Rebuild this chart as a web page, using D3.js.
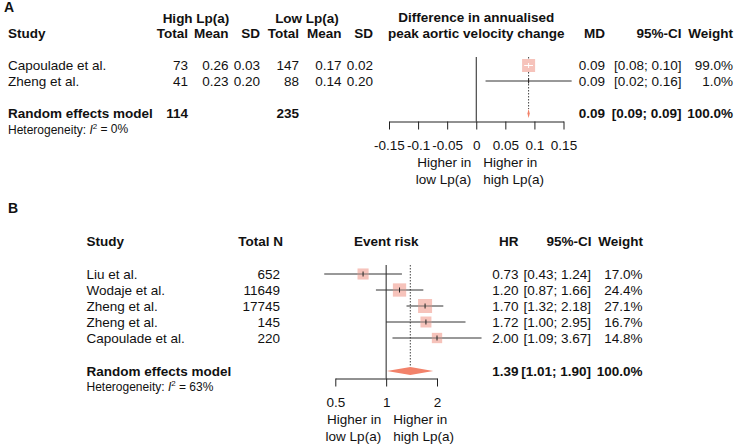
<!DOCTYPE html>
<html>
<head>
<meta charset="utf-8">
<script src="https://cdn.jsdelivr.net/npm/d3@7"></script>
<style>
  body { margin: 0; background: #fff; }
  svg { display: block; font-family: Arial, "Liberation Sans", sans-serif; font-size: 13.5px; fill: #111; }
</style>
</head>
<body>
<svg id="chart" width="740" height="445"></svg>
<script>
/* ============================================================
   Two forest plots (A: mean difference, B: hazard ratio)
   ============================================================ */

// ---- Panel A data ----
const studiesA   = ['Capoulade et al.', 'Zheng et al.'];
const highTotalA = [73, 41];
const highMeanA  = [0.26, 0.23];
const highSdA    = [0.03, 0.20];
const lowTotalA  = [147, 88];
const lowMeanA   = [0.17, 0.14];
const lowSdA     = [0.02, 0.20];
const mdA        = [0.09, 0.09];
const lowerA     = [0.0824, 0.016];
const upperA     = [0.0976, 0.164];
const weightA    = [99.0, 1.0];
const pooledA    = [0.09, 0.088, 0.092];   // estimate, lower, upper
const totalsA    = [114, 235];
const i2A        = 0;
const ticksA     = [-0.15, -0.1, -0.05, 0, 0.05, 0.1, 0.15];

// ---- Panel B data ----
const studiesB = ['Liu et al.', 'Wodaje et al.', 'Zheng et al.', 'Zheng et al.', 'Capoulade et al.'];
const totalNB  = [652, 11649, 17745, 145, 220];
const hrB      = [0.73, 1.20, 1.70, 1.72, 2.00];
const lowerB   = [0.43, 0.87, 1.32, 1.00, 1.09];
const upperB   = [1.24, 1.66, 2.18, 2.95, 3.67];
const weightB  = [17.0, 24.4, 27.1, 16.7, 14.8];
const pooledB  = [1.39, 1.01, 1.90];
const i2B      = 63;
const ticksB   = [0.5, 1, 2];

const SQUARE = '#f6c3bb';
const DIAMOND = '#f2826a';
const LINE = '#333';

const svg = d3.select('#chart');

function text(x, y, s, anchor, opts) {
  opts = opts || {};
  const t = svg.append('text')
    .attr('x', x).attr('y', y)
    .attr('dy', '0.35em')
    .attr('text-anchor', anchor || 'start')
    .text(s);
  if (opts.bold) t.attr('font-weight', 'bold');
  if (opts.size) t.attr('font-size', opts.size);
  return t;
}

function hetero(x, y, val) {
  const t = svg.append('text').attr('x', x).attr('y', y).attr('dy', '0.35em')
    .attr('font-size', 12);
  t.append('tspan').text('Heterogeneity: ');
  t.append('tspan').attr('font-style', 'italic').text('I');
  t.append('tspan').attr('font-size', 8).attr('dy', '-0.6em').text('2');
  t.append('tspan').attr('dy', '0.35em').text(` = ${val}%`);
}

const ci = (l, u) => `[${l.toFixed(2)}; ${u.toFixed(2)}]`;

function drawStudy(x, y, est, lo, hi, size) {
  svg.append('line').attr('x1', x(lo)).attr('x2', x(hi)).attr('y1', y).attr('y2', y)
    .attr('stroke', LINE).attr('stroke-width', 1);
  const cx = x(est);
  svg.append('rect').attr('x', cx - size / 2).attr('y', y - size / 2)
    .attr('width', size).attr('height', size).attr('fill', SQUARE);
  // inside part of the CI line, white when it fits in the square
  const inside = x(lo) >= cx - size / 2 && x(hi) <= cx + size / 2;
  const col = inside ? '#fff' : '#555';
  svg.append('line')
    .attr('x1', Math.max(x(lo), cx - size / 2)).attr('x2', Math.min(x(hi), cx + size / 2))
    .attr('y1', y).attr('y2', y).attr('stroke', col).attr('stroke-width', inside ? 1 : 0.8);
  svg.append('line').attr('x1', cx).attr('x2', cx).attr('y1', y - 2.5).attr('y2', y + 2.5)
    .attr('stroke', inside ? '#fff' : '#222').attr('stroke-width', 1);
}

function drawDiamond(x, y, est, lo, hi, h) {
  svg.append('polygon')
    .attr('points', [[x(lo), y], [x(est), y - h], [x(hi), y], [x(est), y + h]].join(' '))
    .attr('fill', DIAMOND);
}

function drawAxis(x, y, ticks, fmt) {
  const g = svg.append('g').attr('transform', `translate(0,${y})`)
    .call(d3.axisBottom(x).tickValues(ticks).tickFormat(fmt).tickSize(8).tickSizeOuter(0));
  g.attr('font-size', null).attr('font-family', null);
  g.select('.domain').attr('stroke', '#222');
  g.selectAll('.tick line').attr('stroke', '#222');
  g.selectAll('.tick text').attr('y', 24).attr('dy', '0.35em').attr('fill', '#111');
}

function sideLabels(x0, y) {
  text(x0 - 5, y + 41, 'Higher in', 'end');
  text(x0 - 5, y + 57.5, 'low Lp(a)', 'end');
  text(x0 + 7, y + 41, 'Higher in', 'start');
  text(x0 + 7, y + 57.5, 'high Lp(a)', 'start');
}

// ============================================================
// Panel A
// ============================================================
(() => {
  const xA = d3.scaleLinear().domain([-0.15, 0.15]).range([389, 563.5]);
  const rowY = [65.5, 81];
  const sumY = 113.5;
  const axisY = 121.5;
  const size = d3.scaleSqrt().domain([0, d3.max(weightA)]).range([0, 13]);

  text(4, 7.5, 'A', 'start', { bold: true, size: 14 });

  // headers
  text(196, 18, 'High Lp(a)', 'middle', { bold: true });
  text(307, 18, 'Low Lp(a)', 'middle', { bold: true });
  text(xA(0), 17, 'Difference in annualised', 'middle', { bold: true });
  text(8, 33, 'Study', 'start', { bold: true });
  const cols = [188, 228.5, 260, 299, 341.5, 373];
  ['Total', 'Mean', 'SD', 'Total', 'Mean', 'SD'].forEach((h, i) => text(cols[i], 33, h, 'end', { bold: true }));
  text(xA(0), 33, 'peak aortic velocity change', 'middle', { bold: true });
  text(605, 33, 'MD', 'end', { bold: true });
  text(681.5, 33, '95%-CI', 'end', { bold: true });
  text(733, 33, 'Weight', 'end', { bold: true });

  // study rows
  studiesA.forEach((s, i) => {
    const y = rowY[i];
    text(8, y, s);
    text(cols[0], y, highTotalA[i], 'end');
    text(cols[1], y, highMeanA[i].toFixed(2), 'end');
    text(cols[2], y, highSdA[i].toFixed(2), 'end');
    text(cols[3], y, lowTotalA[i], 'end');
    text(cols[4], y, lowMeanA[i].toFixed(2), 'end');
    text(cols[5], y, lowSdA[i].toFixed(2), 'end');
    text(605, y, mdA[i].toFixed(2), 'end');
    text(681.5, y, ci(lowerA[i], upperA[i]), 'end');
    text(733, y, weightA[i].toFixed(1) + '%', 'end');
  });

  // summary row
  text(8, sumY, 'Random effects model', 'start', { bold: true });
  text(cols[0], sumY, totalsA[0], 'end', { bold: true });
  text(cols[3], sumY, totalsA[1], 'end', { bold: true });
  text(605, sumY, pooledA[0].toFixed(2), 'end', { bold: true });
  text(681.5, sumY, ci(pooledA[1], pooledA[2]), 'end', { bold: true });
  text(733, sumY, '100.0%', 'end', { bold: true });
  hetero(8, 129.5, i2A);

  // reference + pooled lines
  svg.append('line').attr('x1', xA(0)).attr('x2', xA(0)).attr('y1', 57).attr('y2', axisY)
    .attr('stroke', '#222');
  svg.append('line').attr('x1', xA(pooledA[0])).attr('x2', xA(pooledA[0]))
    .attr('y1', 57).attr('y2', sumY - 4.5)
    .attr('stroke', '#444').attr('stroke-dasharray', '1.5,1.5');

  studiesA.forEach((s, i) => drawStudy(xA, rowY[i], mdA[i], lowerA[i], upperA[i], size(weightA[i])));
  drawDiamond(xA, sumY, pooledA[0], pooledA[1], pooledA[2], 4.5);

  drawAxis(xA, axisY, ticksA, d => String(d));
  sideLabels(xA(0), axisY);
})();

// ============================================================
// Panel B
// ============================================================
(() => {
  const xB = d3.scaleLog().domain([0.5, 2]).range([335.3, 437]);
  const rowY = [274, 290, 306, 322, 338];
  const sumY = 371;
  const axisY = 378.5;
  const size = d3.scaleSqrt().domain([0, d3.max(weightB)]).range([0, 14]);

  text(8, 208, 'B', 'start', { bold: true, size: 14 });

  const hy = 241.7;
  text(86.5, hy, 'Study', 'start', { bold: true });
  text(283, hy, 'Total N', 'end', { bold: true });
  text(xB(1), hy, 'Event risk', 'middle', { bold: true });
  text(518.5, hy, 'HR', 'end', { bold: true });
  text(591.5, hy, '95%-CI', 'end', { bold: true });
  text(643, hy, 'Weight', 'end', { bold: true });

  studiesB.forEach((s, i) => {
    const y = rowY[i];
    text(86.5, y, s);
    text(280, y, totalNB[i], 'end');
    text(518.5, y, hrB[i].toFixed(2), 'end');
    text(591, y, ci(lowerB[i], upperB[i]), 'end');
    text(642.5, y, weightB[i].toFixed(1) + '%', 'end');
  });

  text(86.5, sumY, 'Random effects model', 'start', { bold: true });
  text(518.5, sumY, pooledB[0].toFixed(2), 'end', { bold: true });
  text(591, sumY, ci(pooledB[1], pooledB[2]), 'end', { bold: true });
  text(642.5, sumY, '100.0%', 'end', { bold: true });
  hetero(86.5, 387, i2B);

  svg.append('line').attr('x1', xB(1)).attr('x2', xB(1)).attr('y1', 265).attr('y2', axisY)
    .attr('stroke', '#222');
  svg.append('line').attr('x1', xB(pooledB[0])).attr('x2', xB(pooledB[0]))
    .attr('y1', 265).attr('y2', sumY - 4)
    .attr('stroke', '#444').attr('stroke-dasharray', '1.5,1.5');

  studiesB.forEach((s, i) => drawStudy(xB, rowY[i], hrB[i], lowerB[i], upperB[i], size(weightB[i])));
  drawDiamond(xB, sumY, pooledB[0], pooledB[1], pooledB[2], 4);

  drawAxis(xB, axisY, ticksB, d => String(d));
  sideLabels(xB(1), axisY);
})();
</script>
</body>
</html>
